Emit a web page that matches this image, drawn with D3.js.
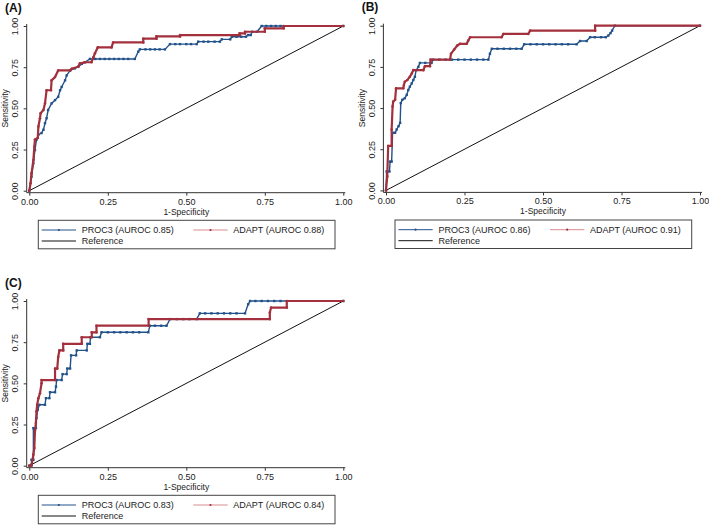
<!DOCTYPE html>
<html>
<head>
<meta charset="utf-8">
<script src="https://cdn.jsdelivr.net/npm/d3@7"></script>
<style>
  body { margin: 0; background: #fff; }
  svg { display: block; font-family: 'Liberation Sans', Arial, sans-serif; }
</style>
</head>
<body>
<div id="chart"></div>
<script>
// ROC points: [1-specificity, sensitivity]
var procA = [[0,0],[0.007,0.085],[0.013,0.166],[0.018,0.247],[0.023,0.31],[0.029,0.34],[0.039,0.35],[0.045,0.37],[0.05,0.41],[0.055,0.44],[0.06,0.49],[0.071,0.53],[0.082,0.55],[0.092,0.57],[0.098,0.61],[0.103,0.63],[0.114,0.67],[0.119,0.7],[0.13,0.73],[0.145,0.743],[0.156,0.753],[0.167,0.77],[0.177,0.78],[0.193,0.8],[0.21,0.8],[0.225,0.8],[0.24,0.8],[0.255,0.8],[0.27,0.8],[0.285,0.8],[0.3,0.8],[0.315,0.8],[0.336,0.8],[0.347,0.844],[0.352,0.858],[0.37,0.858],[0.385,0.858],[0.4,0.858],[0.415,0.858],[0.432,0.858],[0.448,0.89],[0.465,0.89],[0.48,0.89],[0.5,0.89],[0.515,0.89],[0.533,0.89],[0.538,0.905],[0.555,0.905],[0.57,0.905],[0.59,0.905],[0.607,0.905],[0.613,0.919],[0.64,0.919],[0.645,0.935],[0.66,0.935],[0.675,0.935],[0.69,0.935],[0.697,0.945],[0.705,0.945],[0.71,0.965],[0.725,0.965],[0.74,1],[0.755,1],[0.77,1],[0.785,1],[0.8,1],[1,1]];
var adaptA = [[0,0],[0.004,0.045],[0.007,0.105],[0.013,0.186],[0.016,0.267],[0.018,0.31],[0.027,0.32],[0.029,0.39],[0.034,0.44],[0.036,0.47],[0.045,0.49],[0.05,0.53],[0.055,0.61],[0.069,0.61],[0.071,0.67],[0.082,0.69],[0.092,0.73],[0.13,0.73],[0.135,0.74],[0.156,0.753],[0.161,0.773],[0.177,0.78],[0.198,0.78],[0.204,0.81],[0.209,0.834],[0.218,0.87],[0.262,0.87],[0.267,0.9],[0.363,0.9],[0.363,0.923],[0.405,0.923],[0.405,0.937],[0.48,0.937],[0.48,0.945],[0.67,0.945],[0.67,0.955],[0.687,0.955],[0.687,0.965],[0.75,0.965],[0.75,0.986],[0.81,0.986],[0.81,1],[1,1]];

var procB = [[0,0],[0.002,0.115],[0.011,0.115],[0.013,0.175],[0.018,0.175],[0.021,0.35],[0.029,0.35],[0.034,0.37],[0.04,0.39],[0.045,0.41],[0.047,0.53],[0.052,0.55],[0.06,0.56],[0.066,0.58],[0.071,0.61],[0.076,0.63],[0.082,0.65],[0.087,0.67],[0.092,0.69],[0.096,0.73],[0.103,0.75],[0.108,0.774],[0.125,0.774],[0.145,0.774],[0.15,0.794],[0.17,0.794],[0.19,0.794],[0.21,0.794],[0.23,0.794],[0.25,0.794],[0.27,0.794],[0.29,0.794],[0.31,0.794],[0.326,0.794],[0.331,0.83],[0.337,0.86],[0.355,0.86],[0.375,0.86],[0.395,0.86],[0.415,0.86],[0.432,0.86],[0.44,0.887],[0.46,0.887],[0.48,0.887],[0.5,0.887],[0.52,0.887],[0.54,0.887],[0.56,0.887],[0.58,0.887],[0.607,0.887],[0.618,0.907],[0.639,0.907],[0.65,0.93],[0.665,0.93],[0.685,0.93],[0.7,0.93],[0.708,0.94],[0.715,0.955],[0.72,0.97],[0.729,1],[1,1]];
var adaptB = [[0,0],[0.004,0.085],[0.007,0.27],[0.018,0.27],[0.018,0.37],[0.021,0.51],[0.023,0.54],[0.029,0.55],[0.032,0.62],[0.055,0.62],[0.057,0.64],[0.06,0.66],[0.068,0.67],[0.076,0.69],[0.082,0.71],[0.087,0.73],[0.119,0.73],[0.124,0.754],[0.14,0.754],[0.142,0.794],[0.204,0.794],[0.207,0.83],[0.217,0.855],[0.227,0.88],[0.236,0.89],[0.257,0.89],[0.262,0.91],[0.268,0.93],[0.368,0.93],[0.374,0.95],[0.453,0.95],[0.459,0.97],[0.666,0.97],[0.666,1],[1,1]];

var procC = [[0,0],[0.007,0.006],[0.007,0.036],[0.013,0.036],[0.013,0.228],[0.021,0.228],[0.023,0.29],[0.027,0.34],[0.032,0.37],[0.05,0.37],[0.053,0.41],[0.064,0.41],[0.066,0.446],[0.082,0.446],[0.085,0.48],[0.087,0.52],[0.103,0.52],[0.106,0.556],[0.119,0.556],[0.121,0.59],[0.13,0.59],[0.133,0.67],[0.149,0.67],[0.151,0.7],[0.183,0.7],[0.185,0.74],[0.193,0.74],[0.195,0.78],[0.225,0.78],[0.23,0.81],[0.25,0.81],[0.27,0.81],[0.29,0.81],[0.31,0.81],[0.33,0.81],[0.35,0.81],[0.379,0.81],[0.384,0.85],[0.4,0.85],[0.42,0.85],[0.437,0.85],[0.448,0.89],[0.47,0.89],[0.49,0.89],[0.51,0.89],[0.533,0.89],[0.543,0.925],[0.56,0.925],[0.58,0.925],[0.6,0.925],[0.62,0.925],[0.64,0.925],[0.66,0.925],[0.687,0.925],[0.697,0.98],[0.703,1],[0.72,1],[0.74,1],[0.76,1],[0.78,1],[0.8,1],[1,1]];
var adaptC = [[0,0],[0.007,0],[0.013,0.067],[0.016,0.107],[0.018,0.21],[0.021,0.26],[0.023,0.33],[0.025,0.37],[0.029,0.41],[0.034,0.44],[0.039,0.5],[0.039,0.52],[0.082,0.52],[0.082,0.59],[0.089,0.59],[0.092,0.66],[0.096,0.7],[0.108,0.7],[0.108,0.74],[0.167,0.74],[0.167,0.78],[0.199,0.78],[0.199,0.81],[0.214,0.81],[0.214,0.85],[0.38,0.85],[0.38,0.89],[0.766,0.89],[0.766,0.93],[0.77,0.96],[0.82,0.96],[0.82,1],[1,1]];

var refLine = [[0,0],[1,1]];
var ticks = [0, 0.25, 0.5, 0.75, 1];
var panelLabels = ['(A)', '(B)', '(C)'];
var procNames = ['PROC3 (AUROC 0.85)', 'PROC3 (AUROC 0.86)', 'PROC3 (AUROC 0.83)'];
var adaptNames = ['ADAPT (AUROC 0.88)', 'ADAPT (AUROC 0.91)', 'ADAPT (AUROC  0.84)'];

var width = 709;
var height = 525;
var blue = '#22528a';
var red = '#a3303c';
var axisColor = '#333';

var svg = d3
  .select('#chart')
  .append('svg')
  .attr('width', width)
  .attr('height', height);

var panels = [
  { ox: 0, oy: 0, proc: procA, adapt: adaptA },
  { ox: 356.7, oy: -0.3, proc: procB, adapt: adaptB },
  { ox: 0, oy: 275, proc: procC, adapt: adaptC }
];

panels.forEach(function(p, i) {
  var g = svg.append('g').attr('transform', 'translate(' + p.ox + ',' + p.oy + ')');

  var x = d3.scaleLinear().domain([0, 1]).range([29.3, 343.3]);
  var y = d3.scaleLinear().domain([0, 1]).range([190.7, 26]);
  var axisY = 192.7;
  var axisX = 26.7;

  // panel tag
  g.append('text')
    .attr('x', 5)
    .attr('y', 11.5)
    .attr('font-size', 12)
    .attr('font-weight', 'bold')
    .attr('fill', '#111')
    .text(panelLabels[i]);

  // axes
  var xAxis = d3.axisBottom(x).tickValues(ticks).tickSize(3).tickFormat(d3.format('.2f'));
  var yAxis = d3.axisLeft(y).tickValues(ticks).tickSize(3).tickFormat(d3.format('.2f'));

  var xg = g.append('g').attr('class', 'x-axis').attr('transform', 'translate(0,' + axisY + ')').call(xAxis);
  var yg = g.append('g').attr('class', 'y-axis').attr('transform', 'translate(' + axisX + ',0)').call(yAxis);

  [xg, yg].forEach(function(a) {
    a.select('.domain').remove();
    a.selectAll('line').attr('stroke', axisColor);
    a.selectAll('text').attr('font-size', 9).attr('fill', '#222').attr('font-family', null);
  });
  xg.selectAll('text').attr('y', 5.5).attr('dy', '0.71em');
  yg.selectAll('text')
    .attr('transform', 'rotate(-90)')
    .attr('x', 0)
    .attr('y', -8.4)
    .attr('dy', 0)
    .attr('text-anchor', 'middle');

  g.append('line')
    .attr('x1', axisX).attr('x2', x(1) + 2)
    .attr('y1', axisY).attr('y2', axisY)
    .attr('stroke', axisColor);
  g.append('line')
    .attr('x1', axisX).attr('x2', axisX)
    .attr('y1', y(1) - 2).attr('y2', axisY)
    .attr('stroke', axisColor);

  // axis titles
  g.append('text')
    .attr('x', (x(0) + x(1)) / 2)
    .attr('y', 214.5)
    .attr('text-anchor', 'middle')
    .attr('font-size', 8.5)
    .attr('fill', '#222')
    .text('1-Specificity');
  g.append('text')
    .attr('transform', 'translate(8.3,' + (y(0) + y(1)) / 2 + ') rotate(-90)')
    .attr('text-anchor', 'middle')
    .attr('font-size', 8.5)
    .attr('fill', '#222')
    .text('Sensitivity');

  var line = d3.line().x(d => x(d[0])).y(d => y(d[1]));

  // reference diagonal
  g.append('path')
    .datum(refLine)
    .attr('d', line)
    .attr('fill', 'none')
    .attr('stroke', '#111')
    .attr('stroke-width', 1);

  // PROC3
  g.append('path')
    .datum(p.proc)
    .attr('d', line)
    .attr('fill', 'none')
    .attr('stroke', blue)
    .attr('stroke-width', 1.4);
  g.selectAll('.dot-proc')
    .data(p.proc)
    .enter()
    .append('rect')
    .attr('class', 'dot-proc')
    .attr('x', d => x(d[0]) - 1.2)
    .attr('y', d => y(d[1]) - 1.2)
    .attr('width', 2.4)
    .attr('height', 2.4)
    .attr('fill', blue);

  // ADAPT
  g.append('path')
    .datum(p.adapt)
    .attr('d', line)
    .attr('fill', 'none')
    .attr('stroke', red)
    .attr('stroke-width', 2.2);
  g.selectAll('.dot-adapt')
    .data(p.adapt)
    .enter()
    .append('circle')
    .attr('class', 'dot-adapt')
    .attr('cx', d => x(d[0]))
    .attr('cy', d => y(d[1]))
    .attr('r', 1.3)
    .attr('fill', red);

  // legend
  var lg = g.append('g').attr('class', 'legend');
  lg.append('rect')
    .attr('x', 38.3)
    .attr('y', 220.3)
    .attr('width', 296.7)
    .attr('height', 28.5)
    .attr('fill', '#fff')
    .attr('stroke', '#444')
    .attr('stroke-width', 1);

  var rows = [
    { x1: 41.7, x2: 76, tx: 81.7, yy: 230, color: blue, w: 1, dot: true, dotColor: blue, label: procNames[i] },
    { x1: 193.3, x2: 227.7, tx: 233.3, yy: 230, color: '#d98b92', w: 1, dot: true, dotColor: red, label: adaptNames[i] },
    { x1: 41.7, x2: 76, tx: 81.7, yy: 241, color: '#111', w: 1, dot: false, label: 'Reference' }
  ];
  rows.forEach(function(r) {
    lg.append('line')
      .attr('x1', r.x1).attr('x2', r.x2)
      .attr('y1', r.yy).attr('y2', r.yy)
      .attr('stroke', r.color)
      .attr('stroke-width', r.w);
    if (r.dot) {
      lg.append('circle')
        .attr('cx', (r.x1 + r.x2) / 2)
        .attr('cy', r.yy)
        .attr('r', 1.1)
        .attr('fill', r.dotColor);
    }
    lg.append('text')
      .attr('x', r.tx)
      .attr('y', r.yy + 3.2)
      .attr('font-size', 9)
      .attr('fill', '#222')
      .text(r.label);
  });
});
</script>
</body>
</html>
